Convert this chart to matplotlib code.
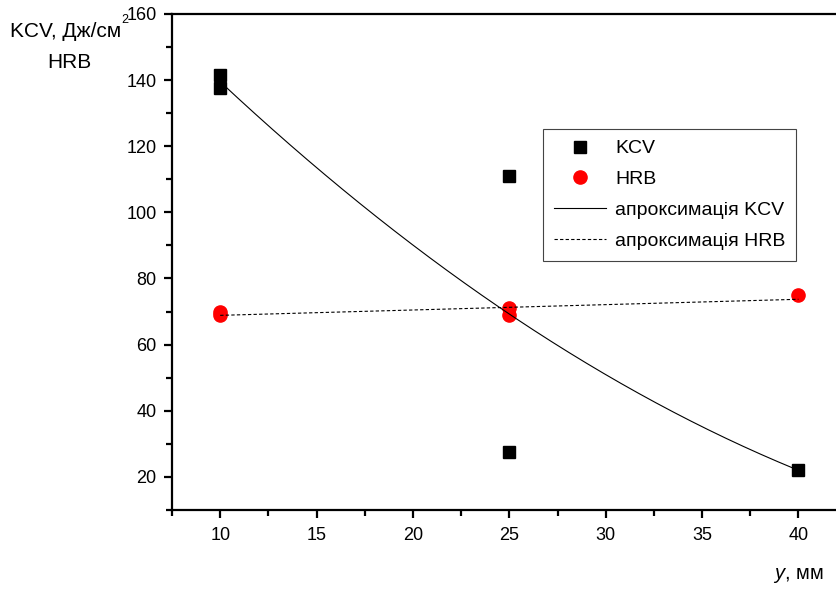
import numpy as np
import matplotlib
matplotlib.use("Agg")
import matplotlib.pyplot as plt
from matplotlib.ticker import MultipleLocator

plt.rcParams['font.family'] = ['Liberation Sans', 'DejaVu Sans']
plt.rcParams['mathtext.fontset'] = 'custom'
plt.rcParams['mathtext.it'] = 'Liberation Sans:italic'
plt.rcParams['mathtext.rm'] = 'Liberation Sans'

# Data
kcv_x = [10, 10, 25, 25, 40]
kcv_y = [141.5, 137.5, 111, 27.5, 22]
hrb_x = [10, 10, 25, 25, 40]
hrb_y = [70, 69, 71, 69, 75]

xticks = [10, 15, 20, 25, 30, 35, 40]
yticks = [20, 40, 60, 80, 100, 120, 140, 160]

fig = plt.figure(figsize=(8.37, 5.92), dpi=100)
ax = fig.add_axes([0.2055, 0.1385, 0.806, 0.838])

# Fits computed from the data
kx = np.linspace(min(kcv_x), max(kcv_x), 200)
kfit = np.polyval(np.polyfit(kcv_x, kcv_y, 2), kx)
hfit = np.polyval(np.polyfit(hrb_x, hrb_y, 1), kx)

ax.plot(kcv_x, kcv_y, ls='none', marker='s', ms=8.5, color='black', label='KCV', zorder=2)
ax.plot(hrb_x, hrb_y, ls='none', marker='o', ms=9.5, color='red', mec='red', label='HRB', zorder=2)
ax.plot(kx, kfit, color='black', lw=0.8, label='апроксимація KCV', zorder=3)
ax.plot(kx, hfit, color='black', lw=0.8, ls=(0, (3, 2)), label='апроксимація HRB', zorder=3)

ax.set_xlim(7.5, 42.5)
ax.set_ylim(10, 160)
ax.set_xticks(xticks)
ax.set_yticks(yticks)
ax.xaxis.set_minor_locator(MultipleLocator(2.5))
ax.yaxis.set_minor_locator(MultipleLocator(10))

for s in ax.spines.values():
    s.set_linewidth(1.6)
ax.tick_params(which='major', direction='out', length=6, width=1.6, labelsize=13)
ax.tick_params(axis='x', which='major', pad=6)
ax.tick_params(axis='y', which='major', pad=5)
ax.tick_params(which='minor', direction='out', length=4, width=1.6)
ax.tick_params(axis='y', which='both', right=False)
ax.tick_params(axis='x', which='both', top=False)

leg = ax.legend(loc='upper left', bbox_to_anchor=(0.55, 0.768), borderaxespad=0,
                fontsize=14, frameon=True, fancybox=False, framealpha=1,
                edgecolor='#444444', handlelength=2.7, handletextpad=0.45,
                labelspacing=0.68, borderpad=0.55)
leg.get_frame().set_linewidth(0.8)

fig.text(0.012, 0.946, 'KCV, Дж/см', fontsize=15, va='center', ha='left')
fig.text(0.1445, 0.967, '2', fontsize=9, va='center', ha='left')
fig.text(0.083, 0.895, 'HRB', fontsize=15, va='center', ha='center')

fig.text(0.923, 0.022, r'$\mathit{y}$, мм', fontsize=14.5, va='baseline', ha='left')

fig.savefig('out.png', dpi=100)
